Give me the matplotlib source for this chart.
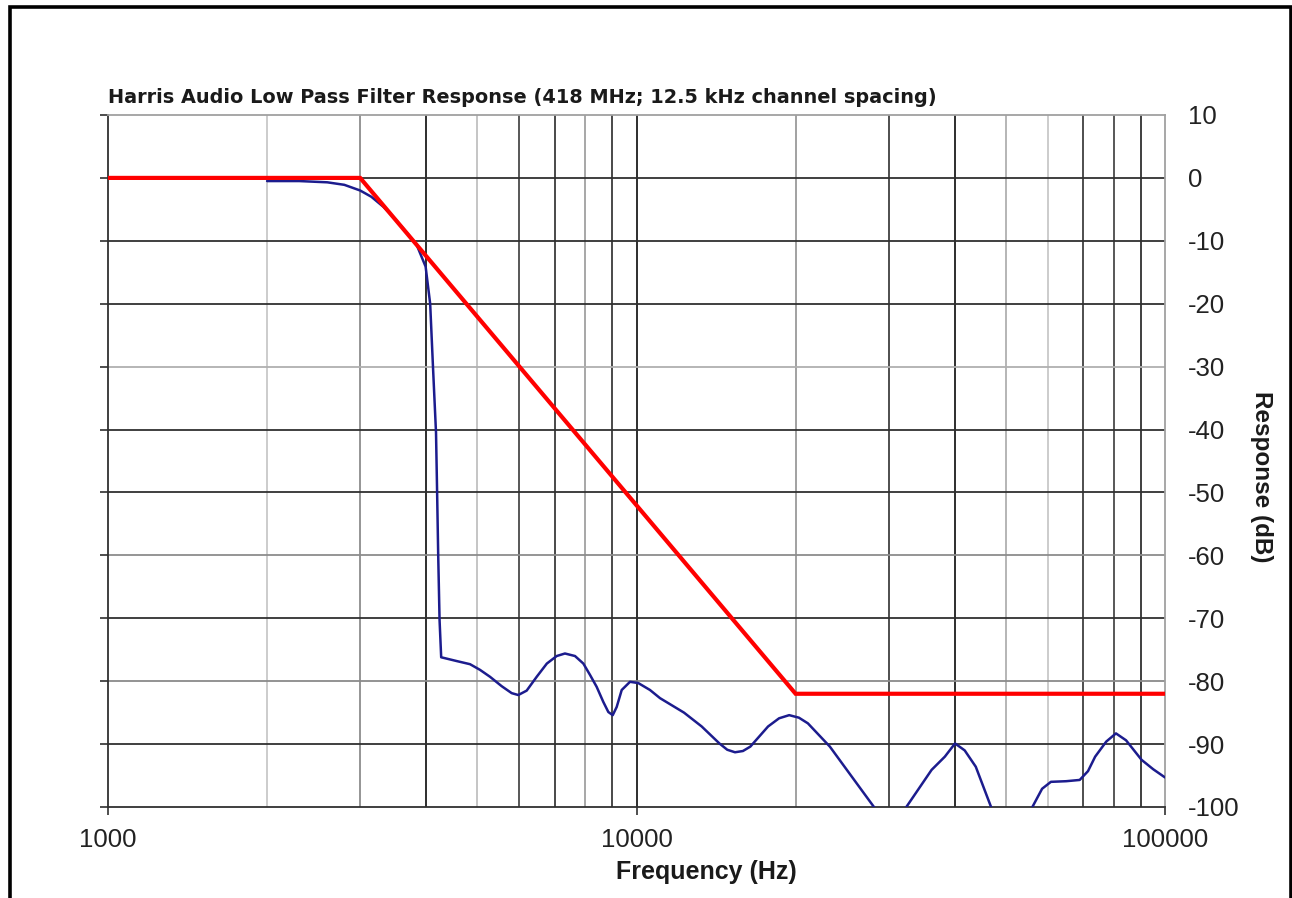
import matplotlib
matplotlib.use("Agg")
import matplotlib.pyplot as plt
from matplotlib.lines import Line2D

# ---- data ----
title = "Harris Audio Low Pass Filter Response (418 MHz; 12.5 kHz channel spacing)"
xlabel = "Frequency (Hz)"
ylabel = "Response (dB)"

mask_freq = [1000, 3000, 20000, 100000]
mask_db = [0, 0, -82, -82]

resp_freq = [2000, 2300, 2600, 2800, 3000, 3150, 3320, 3500, 3700, 3840, 3990,
             4070, 4120, 4175, 4195, 4215, 4240, 4270,
             4568, 4842, 5057, 5282, 5559, 5805, 5975, 6197, 6474, 6766, 7063,
             7322, 7649, 7933, 8166, 8407, 8654, 8845, 9016, 9173, 9376, 9721,
             10079, 10605, 11080, 12300, 13285, 14352, 14850, 15360, 15900, 16420,
             17740, 18610, 19450, 20290, 21100, 23220, 25560, 28140, 30200, 32400,
             36170, 38320, 40060, 41780, 43850, 46870, 51500, 56110, 58540, 60830,
             65000, 68960, 71500, 73760, 77420, 80760, 84400, 90280, 95000, 100000]
resp_db = [-0.5, -0.5, -0.7, -1.1, -2.0, -3.0, -4.6, -6.6, -9.0, -10.7, -14.1,
           -20.0, -30.0, -40.5, -50.0, -60.0, -70.3, -76.2,
           -76.8, -77.3, -78.2, -79.3, -80.8, -81.9, -82.2, -81.5, -79.3, -77.2, -76.0,
           -75.6, -76.0, -77.2, -79.0, -80.9, -83.3, -84.9, -85.4, -84.1, -81.4, -80.1,
           -80.3, -81.4, -82.7, -85.0, -87.2, -89.9, -90.9, -91.3, -91.1, -90.4,
           -87.2, -85.9, -85.4, -85.8, -86.7, -90.4, -95.2, -100.0, -103.0, -100.0,
           -94.1, -92.0, -89.9, -91.0, -93.6, -100.0, -109.0, -100.0, -97.1, -96.0,
           -95.9, -95.7, -94.3, -92.0, -89.6, -88.3, -89.4, -92.5, -94.0, -95.3]

x_major = [1000, 10000, 100000]
y_ticks = [10, 0, -10, -20, -30, -40, -50, -60, -70, -80, -90, -100]
x_ticklabels = ["1000", "10000", "100000"]

# ---- figure ----
W, H = 1292, 898
fig = plt.figure(figsize=(W / 100, H / 100), dpi=100)
fig.patch.set_facecolor("white")
ax = fig.add_axes([108 / W, 1 - 807 / H, (1165 - 108) / W, (807 - 115) / H])
ax.set_xscale("log")
ax.set_xlim(1000, 100000)
ax.set_ylim(-100, 10)

# grid lines (shades as they appear in the reference)
vgrid = [2000, 3000, 4000, 5000, 6000, 7000, 8000, 9000, 10000,
         20000, 30000, 40000, 50000, 60000, 70000, 80000, 90000]
vshade = ["#c8c8c8", "#8c8c8c", "#1e1e1e", "#c0c0c0", "#4a4a4a", "#3a3a3a", "#a0a0a0", "#3a3a3a", "#1e1e1e",
          "#9a9a9a", "#404040", "#1e1e1e", "#b0b0b0", "#c8c8c8", "#404040", "#4a4a4a", "#303030"]
for xv, c in zip(vgrid, vshade):
    ax.axvline(xv, color=c, lw=1.3, zorder=1)
hgrid = [0, -10, -20, -30, -40, -50, -60, -70, -80, -90]
hshade = ["#303030", "#303030", "#303030", "#b0b0b0", "#303030", "#303030", "#8c8c8c", "#303030", "#8a8a8a", "#303030"]
for yv, c in zip(hgrid, hshade):
    ax.axhline(yv, color=c, lw=1.3, zorder=1)

ax.plot(resp_freq, resp_db, color="#1c1c8e", lw=1.8, zorder=3,
        solid_joinstyle="round", solid_capstyle="round")
ax.plot(mask_freq, mask_db, color="#ff0000", lw=3.0, zorder=4, solid_joinstyle="miter")

# spines
ax.spines["left"].set_color("#303030")
ax.spines["bottom"].set_color("#303030")
ax.spines["top"].set_color("#a0a0a0")
ax.spines["right"].set_color("#a0a0a0")
for s in ax.spines.values():
    s.set_linewidth(1.3)

ax.set_xticks(x_major)
ax.set_xticklabels(x_ticklabels)
ax.xaxis.set_minor_locator(matplotlib.ticker.NullLocator())
ax.tick_params(axis="x", which="major", direction="out", length=6, width=1.2,
               color="#303030", pad=9, labelsize=18.5, labelcolor="#222222")
ax.set_yticks(y_ticks)
ax.set_yticklabels([str(v) for v in y_ticks])
ax.tick_params(axis="y", which="major", direction="out", length=6, width=1.2,
               color="#303030", left=True, right=False, labelleft=False,
               labelright=True, pad=10.5, labelsize=18.5, labelcolor="#222222")

fig.text(108 / W, 1 - 103 / H, title, fontsize=13.9, fontweight="bold",
         ha="left", va="baseline", color="#1a1a1a", family="DejaVu Sans")
fig.text(706 / W, 1 - 872 / H, xlabel, fontsize=18, fontweight="bold",
         ha="center", va="center", color="#1a1a1a", family="Liberation Sans")
fig.text(1262 / W, 1 - 477 / H, ylabel, fontsize=17.5, fontweight="bold",
         ha="center", va="center", rotation=270, color="#1a1a1a", family="Liberation Sans")
for lbl in ax.get_xticklabels() + ax.get_yticklabels():
    lbl.set_family("Liberation Sans")

# outer frame (cropped at bottom)
frame = Line2D([9.5 / W, 9.5 / W, 1290.5 / W, 1290.5 / W],
               [-0.05, 1 - 7 / H, 1 - 7 / H, -0.05],
               transform=fig.transFigure, color="black", lw=2.6,
               solid_joinstyle="miter")
fig.add_artist(frame)

fig.savefig("out.png", dpi=100)
